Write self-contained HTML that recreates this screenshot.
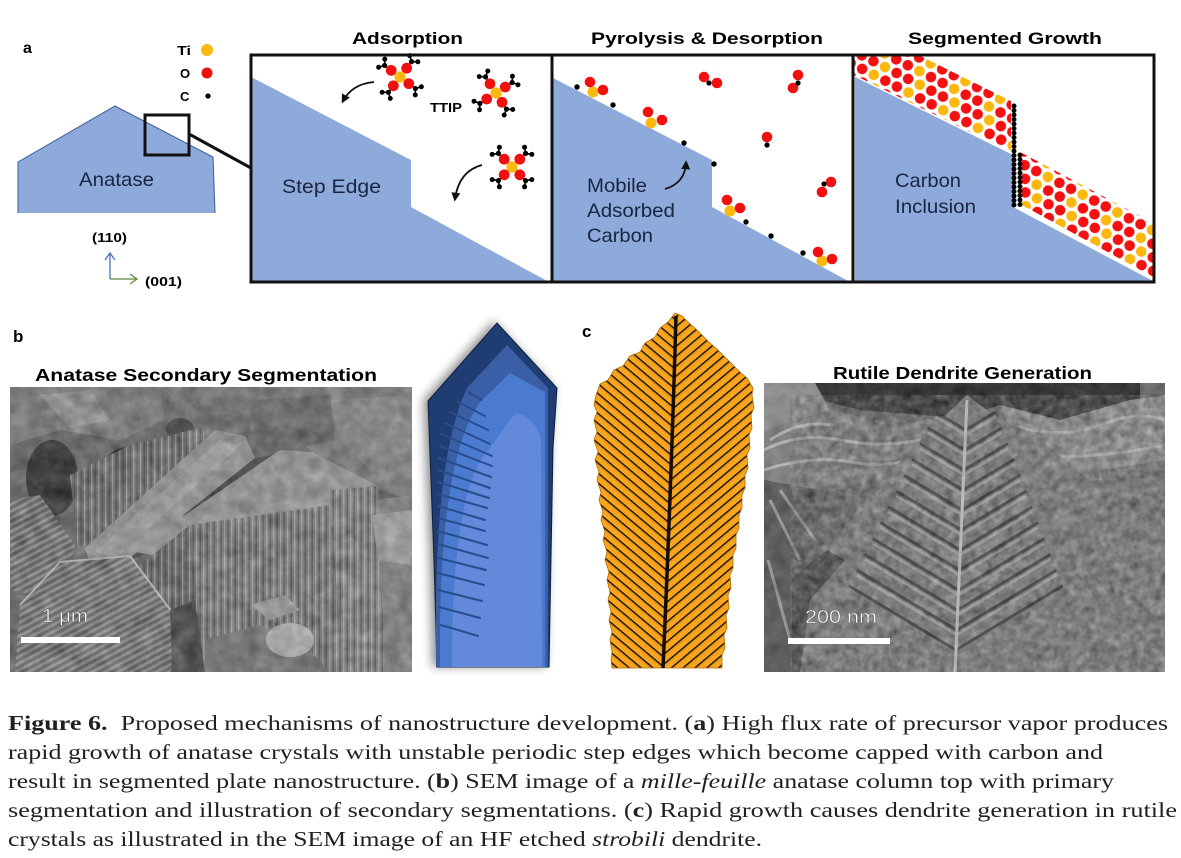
<!DOCTYPE html>
<html><head><meta charset="utf-8">
<style>
html,body{margin:0;padding:0;background:#fff;}
svg{display:block;}
.sans{font-family:"Liberation Sans",Arial,sans-serif;}
.serif{font-family:"Liberation Serif","Times New Roman",serif;}
</style></head>
<body>
<svg width="1181" height="858" viewBox="0 0 1181 858" xmlns="http://www.w3.org/2000/svg">
<defs>
  <marker id="ah" viewBox="0 0 10 10" refX="7" refY="5" markerWidth="5" markerHeight="5" orient="auto">
    <path d="M0,0 L10,5 L0,10 z" fill="#111"/>
  </marker>
  <g id="arm">
    <line x1="7.8" y1="7.8" x2="13.6" y2="13.6" stroke="#000" stroke-width="1.6"/>
    <line x1="13.6" y1="13.6" x2="12.6" y2="19.8" stroke="#000" stroke-width="1.6"/>
    <line x1="13.6" y1="13.6" x2="19.8" y2="12.6" stroke="#000" stroke-width="1.6"/>
    <circle cx="13.6" cy="13.6" r="2.6" fill="#000"/>
    <circle cx="12.6" cy="19.8" r="2.5" fill="#000"/>
    <circle cx="19.8" cy="12.6" r="2.5" fill="#000"/>
    <circle cx="7.8" cy="7.8" r="5.4" fill="#f01010"/>
  </g>
  <g id="ttip">
    <use href="#arm"/>
    <use href="#arm" transform="rotate(90)"/>
    <use href="#arm" transform="rotate(180)"/>
    <use href="#arm" transform="rotate(270)"/>
    <circle cx="0" cy="0" r="5.6" fill="#fdb810"/>
  </g>
  <pattern id="lat" width="39" height="24" patternUnits="userSpaceOnUse" patternTransform="rotate(27)">
    <circle cx="6.5" cy="6" r="5.3" fill="#f21010"/>
    <circle cx="19.5" cy="6" r="5.3" fill="#f21010"/>
    <circle cx="32.5" cy="6" r="5.3" fill="#fdb810"/>
    <circle cx="0" cy="18" r="5.3" fill="#fdb810"/>
    <circle cx="39" cy="18" r="5.3" fill="#fdb810"/>
    <circle cx="13" cy="18" r="5.3" fill="#f21010"/>
    <circle cx="26" cy="18" r="5.3" fill="#f21010"/>
  </pattern>
  <clipPath id="p3clip"><rect x="852" y="55" width="302" height="227"/></clipPath>
  <pattern id="hl" width="20" height="7.6" patternUnits="userSpaceOnUse" patternTransform="rotate(40)">
    <rect width="20" height="7.6" fill="#f9a51e"/>
    <rect y="0" width="20" height="1.4" fill="#1b1207"/>
    <rect y="1.4" width="20" height="1.4" fill="#e29614"/>
  </pattern>
  <pattern id="hr" width="20" height="7.6" patternUnits="userSpaceOnUse" patternTransform="rotate(-40)">
    <rect width="20" height="7.6" fill="#f9a51e"/>
    <rect y="0" width="20" height="1.4" fill="#1b1207"/>
    <rect y="1.4" width="20" height="1.4" fill="#e29614"/>
  </pattern>
  <clipPath id="leafclip">
    <polygon points="675,313 668,322 660,328 655,337 645,343 640,352 630,356 623,366 614,370 608,380 600,384 596,395 594,405 597,412 594,420 597,432 594,440 598,452 595,460 599,472 597,480 601,492 599,500 603,512 601,520 605,532 603,540 607,552 605,560 609,572 607,580 610,592 608,600 611,612 609,620 612,632 610,640 612,652 611,660 612,668 722,668 722,655 725,648 724,635 727,628 726,615 729,608 728,595 731,588 730,575 733,568 733,555 736,548 736,535 739,528 739,515 742,508 742,495 745,488 745,475 748,468 747,455 750,448 749,435 752,428 751,415 754,408 752,395 753,388 747,378 740,372 733,365 726,358 718,350 710,343 703,336 697,330 688,322 682,316"/>
  </clipPath>
  <filter id="sh" x="-30%" y="-20%" width="160%" height="140%" color-interpolation-filters="sRGB">
    <feGaussianBlur in="SourceAlpha" stdDeviation="5"/>
    <feOffset dx="-4" dy="-1" result="b"/>
    <feComponentTransfer><feFuncA type="linear" slope="0.45"/></feComponentTransfer>
    <feMerge><feMergeNode/><feMergeNode in="SourceGraphic"/></feMerge>
  </filter>
  <filter id="grain" x="0" y="0" width="1" height="1" color-interpolation-filters="sRGB">
    <feTurbulence type="fractalNoise" baseFrequency="0.07" numOctaves="3" seed="4"/>
    <feColorMatrix type="matrix" values="0.33 0.33 0.33 0 0  0.33 0.33 0.33 0 0  0.33 0.33 0.33 0 0  0 0 0 0 1"/>
    <feComponentTransfer>
      <feFuncR type="linear" slope="1.8" intercept="-0.45"/>
      <feFuncG type="linear" slope="1.8" intercept="-0.45"/>
      <feFuncB type="linear" slope="1.8" intercept="-0.45"/>
    </feComponentTransfer>
  </filter>
  <filter id="grain2" x="0" y="0" width="1" height="1" color-interpolation-filters="sRGB">
    <feTurbulence type="fractalNoise" baseFrequency="0.13" numOctaves="2" seed="9"/>
    <feColorMatrix type="matrix" values="0.33 0.33 0.33 0 0  0.33 0.33 0.33 0 0  0.33 0.33 0.33 0 0  0 0 0 0 1"/>
    <feComponentTransfer>
      <feFuncR type="linear" slope="2" intercept="-0.5"/>
      <feFuncG type="linear" slope="2" intercept="-0.5"/>
      <feFuncB type="linear" slope="2" intercept="-0.5"/>
    </feComponentTransfer>
  </filter>
  <pattern id="vs" width="7" height="10" patternUnits="userSpaceOnUse">
    <rect x="0" width="1.3" height="10" fill="#d0d0d0" opacity="0.5"/>
    <rect x="3.5" width="1.4" height="10" fill="#333" opacity="0.45"/>
  </pattern>
  <pattern id="hs" width="10" height="6" patternUnits="userSpaceOnUse" patternTransform="rotate(-28)">
    <rect y="0" width="10" height="1.2" fill="#d0d0d0" opacity="0.5"/>
    <rect y="3" width="10" height="1.2" fill="#333" opacity="0.45"/>
  </pattern>
  <clipPath id="sem1"><rect x="10" y="387" width="402" height="285"/></clipPath>
  <clipPath id="sem2"><rect x="764" y="383" width="401" height="289"/></clipPath>
</defs>

<!-- ===== Panel a: left ===== -->
<text x="23" y="53" class="sans" font-weight="bold" font-size="16" fill="#000">a</text>
<text x="177" y="55" class="sans" font-weight="bold" font-size="13" textLength="14" lengthAdjust="spacingAndGlyphs">Ti</text>
<text x="180" y="78" class="sans" font-weight="bold" font-size="13">O</text>
<text x="180" y="101" class="sans" font-weight="bold" font-size="13">C</text>
<circle cx="207" cy="50" r="6" fill="#fdb810"/>
<circle cx="207" cy="73" r="5.5" fill="#f01010"/>
<circle cx="208" cy="96" r="2.6" fill="#000"/>

<polygon points="18,213 18,162 115,106 213,157 215,213" fill="#8eaadb"/>
<polyline points="18,213 18,162 115,106 213,157 215,213" fill="none" stroke="#3b5b98" stroke-width="1"/>
<text x="79" y="186" class="sans" font-size="19.5" fill="#1a2540" textLength="75" lengthAdjust="spacingAndGlyphs">Anatase</text>
<rect x="145" y="115" width="44" height="40" fill="none" stroke="#111" stroke-width="3"/>
<line x1="189" y1="134" x2="251" y2="168" stroke="#111" stroke-width="3"/>

<text x="92" y="242" class="sans" font-weight="bold" font-size="13" textLength="35" lengthAdjust="spacingAndGlyphs">(110)</text>
<line x1="110" y1="279" x2="110" y2="253" stroke="#4a6fb5" stroke-width="1.3"/>
<polyline points="105,260 110,253 115,260" fill="none" stroke="#4a6fb5" stroke-width="1.3"/>
<line x1="110" y1="279" x2="137" y2="279" stroke="#5a8a3a" stroke-width="1.3"/>
<polyline points="130,274 137,279 130,284" fill="none" stroke="#5a8a3a" stroke-width="1.3"/>
<text x="145" y="286" class="sans" font-weight="bold" font-size="13" textLength="37" lengthAdjust="spacingAndGlyphs">(001)</text>

<!-- ===== Panel titles ===== -->
<text x="352" y="44" class="sans" font-weight="bold" font-size="17" textLength="111" lengthAdjust="spacingAndGlyphs">Adsorption</text>
<text x="591" y="44" class="sans" font-weight="bold" font-size="17" textLength="232" lengthAdjust="spacingAndGlyphs">Pyrolysis &amp; Desorption</text>
<text x="908" y="44" class="sans" font-weight="bold" font-size="17" textLength="194" lengthAdjust="spacingAndGlyphs">Segmented Growth</text>

<!-- Panel 1 -->
<polygon points="251,77 411,160 411,207 549,282 251,282" fill="#8eaadb"/>
<text x="282" y="193" class="sans" font-size="19.5" fill="#1a2540" textLength="99" lengthAdjust="spacingAndGlyphs">Step Edge</text>
<use href="#ttip" transform="translate(400,77) rotate(-8)"/>
<use href="#ttip" transform="translate(496,93) rotate(12)"/>
<use href="#ttip" transform="translate(512,167)"/>
<text x="430" y="112" class="sans" font-weight="bold" font-size="13" textLength="32" lengthAdjust="spacingAndGlyphs">TTIP</text>
<path d="M374,82 Q352,84 343,101" fill="none" stroke="#111" stroke-width="1.8" marker-end="url(#ah)"/>
<path d="M482,165 Q459,171 455,199" fill="none" stroke="#111" stroke-width="1.8" marker-end="url(#ah)"/>

<!-- Panel 2 -->
<polygon points="553,78 712,160 712,207 850,282 553,282" fill="#8eaadb"/>
<text x="587" y="192" class="sans" font-size="19.5" fill="#1a2540" textLength="60" lengthAdjust="spacingAndGlyphs">Mobile</text>
<text x="587" y="217" class="sans" font-size="19.5" fill="#1a2540" textLength="88" lengthAdjust="spacingAndGlyphs">Adsorbed</text>
<text x="587" y="242" class="sans" font-size="19.5" fill="#1a2540" textLength="66" lengthAdjust="spacingAndGlyphs">Carbon</text>
<path d="M665,189 Q685,183 686,163" fill="none" stroke="#111" stroke-width="1.8" marker-end="url(#ah)"/>
<g fill="#000">
  <circle cx="577" cy="87" r="2.7"/><circle cx="613" cy="105" r="2.7"/><circle cx="684" cy="143" r="2.7"/>
  <circle cx="714" cy="164" r="2.7"/><circle cx="746" cy="222" r="2.7"/><circle cx="771" cy="236" r="2.7"/>
  <circle cx="803" cy="253" r="2.7"/>
</g>
<g>
  <circle cx="593" cy="92" r="5.5" fill="#fdb810"/><circle cx="590" cy="82" r="5.3" fill="#f01010"/><circle cx="603" cy="90" r="5.3" fill="#f01010"/>
  <circle cx="651" cy="123" r="5.5" fill="#fdb810"/><circle cx="648" cy="112" r="5.3" fill="#f01010"/><circle cx="662" cy="120" r="5.3" fill="#f01010"/>
  <circle cx="730" cy="211" r="5.5" fill="#fdb810"/><circle cx="727" cy="200" r="5.3" fill="#f01010"/><circle cx="740" cy="208" r="5.3" fill="#f01010"/>
  <circle cx="822" cy="261" r="5.5" fill="#fdb810"/><circle cx="818" cy="252" r="5.3" fill="#f01010"/><circle cx="832" cy="259" r="5.3" fill="#f01010"/>
  <circle cx="704" cy="77" r="5.3" fill="#f01010"/><circle cx="717" cy="83" r="5.3" fill="#f01010"/><circle cx="709" cy="83" r="2.6" fill="#000"/>
  <circle cx="798" cy="75" r="5.3" fill="#f01010"/><circle cx="793" cy="88" r="5.3" fill="#f01010"/><circle cx="798" cy="83" r="2.6" fill="#000"/>
  <circle cx="767" cy="137" r="5.3" fill="#f01010"/><circle cx="767" cy="145" r="2.6" fill="#000"/>
  <circle cx="831" cy="182" r="5.3" fill="#f01010"/><circle cx="822" cy="192" r="5.3" fill="#f01010"/><circle cx="824" cy="184" r="2.6" fill="#000"/>
</g>

<!-- Panel 3 -->
<polygon points="855,77 1013,155 1013,207 1153,281 855,282" fill="#8eaadb"/>
<g clip-path="url(#p3clip)">
  <polygon points="852,74 1011,152 1011,101 852,22" fill="url(#lat)"/>
  <polygon points="1022,205 1155,278 1155,224 1022,153" fill="url(#lat)"/>
</g>
<line x1="1014" y1="106" x2="1014" y2="206" stroke="#000" stroke-width="5" stroke-linecap="round" stroke-dasharray="0 4.5"/>
<line x1="1020" y1="155" x2="1020" y2="206" stroke="#000" stroke-width="5" stroke-linecap="round" stroke-dasharray="0 4.5"/>
<text x="895" y="187" class="sans" font-size="19.5" fill="#1a2540" textLength="66" lengthAdjust="spacingAndGlyphs">Carbon</text>
<text x="895" y="213" class="sans" font-size="19.5" fill="#1a2540" textLength="81" lengthAdjust="spacingAndGlyphs">Inclusion</text>

<!-- Panel borders -->
<rect x="251" y="55" width="903" height="227" fill="none" stroke="#111" stroke-width="3"/>
<line x1="552" y1="55" x2="552" y2="282" stroke="#111" stroke-width="3"/>
<line x1="853" y1="55" x2="853" y2="282" stroke="#111" stroke-width="3"/>

<!-- ===== Panel b ===== -->
<text x="13" y="342" class="sans" font-weight="bold" font-size="17">b</text>
<text x="35" y="381" class="sans" font-weight="bold" font-size="17.5" textLength="342" lengthAdjust="spacingAndGlyphs">Anatase Secondary Segmentation</text>

<g clip-path="url(#sem1)">
  <rect x="10" y="387" width="402" height="285" fill="#6a6a6a"/>
  <polygon points="10,387 160,387 165,420 120,440 60,430 10,445" fill="#828282"/>
  <polygon points="40,395 90,390 110,420 70,428" fill="#9a9a9a"/>
  <polygon points="160,387 260,387 250,430 200,445 165,420" fill="#767676"/>
  <polygon points="260,387 412,387 412,500 380,490 330,470 300,440 250,430" fill="#808080"/>
  <polygon points="330,400 412,395 412,480 370,470 340,440" fill="#8e8e8e"/>
  <polygon points="250,400 330,395 335,440 290,450 255,435" fill="#6e6e6e"/>
  <ellipse cx="52" cy="478" rx="26" ry="38" fill="#333"/>
  <ellipse cx="133" cy="472" rx="32" ry="26" fill="#3a3a3a"/>
  <ellipse cx="180" cy="430" rx="14" ry="12" fill="#4a4a4a"/>
  <polygon points="10,500 40,495 75,545 60,600 10,590" fill="#7a7a7a"/>
  <polygon points="10,500 40,495 75,545 60,600 10,590" fill="url(#hs)"/>
  <polygon points="70,475 130,445 200,428 215,448 110,540 78,548" fill="#727272"/>
  <polygon points="70,475 130,445 200,428 215,448 110,540 78,548" fill="url(#vs)"/>
  <polygon points="85,548 215,430 245,436 255,458 125,562 92,568" fill="#9a9a9a"/>
  <polygon points="95,552 220,440 240,446 118,556" fill="#b4b4b4" opacity="0.6"/>
  <polygon points="255,458 290,452 200,525 160,548 125,562" fill="#4a4a4a"/>
  <polygon points="113,548 185,515 280,450 312,452 378,486 348,525 250,536 190,562" fill="#9e9e9e"/>
  <polygon points="140,565 190,525 205,672 150,672" fill="#6e6e6e"/>
  <polygon points="140,565 190,525 205,672 150,672" fill="url(#vs)"/>
  <polygon points="190,525 330,505 342,672 205,672" fill="#828282"/>
  <polygon points="190,525 330,505 342,672 205,672" fill="url(#vs)"/>
  <polygon points="330,490 378,486 385,672 342,672" fill="#8c8c8c"/>
  <polygon points="330,490 378,486 385,672 342,672" fill="url(#vs)"/>
  <polygon points="20,605 60,562 130,556 178,620 170,672 15,672" fill="#7e7e7e"/>
  <polygon points="20,605 60,562 130,556 178,620 170,672 15,672" fill="url(#hs)"/>
  <polyline points="20,605 60,562 130,556 178,620" fill="none" stroke="#c4c4c4" stroke-width="2"/>
  <polygon points="170,610 195,600 205,672 172,672" fill="#4e4e4e"/>
  <polygon points="378,500 412,495 412,672 385,672" fill="#888"/>
  <polygon points="372,515 412,510 412,565 378,560" fill="#a8a8a8"/>
  <polygon points="205,640 260,625 300,640 330,672 205,672" fill="#7a7a7a"/>
  <ellipse cx="290" cy="640" rx="24" ry="17" fill="#b8b8b8"/>
  <polygon points="250,605 285,595 300,610 270,620" fill="#a0a0a0"/>
  <rect x="10" y="387" width="402" height="285" filter="url(#grain)" opacity="0.22"/>
</g>
<rect x="21" y="637" width="99" height="6" fill="#fff"/>
<text x="42" y="622" class="sans" font-size="18" fill="#fff" stroke="#555" stroke-width="0.4" textLength="46" lengthAdjust="spacingAndGlyphs">1 μm</text>

<!-- Blue crystal illustration -->
<g filter="url(#sh)">
  <polygon points="497,323 557,388 553,448 549,667 437,667 434,560 428,401" fill="#1f3c73" stroke="#0f1f3f" stroke-width="1"/>
  <path d="M507,345 L548,388 L548,667 L436,667 C435,560 438,450 467,388 Z" fill="#3a5fa6"/>
  <path d="M510,373 L545,392 L545,667 L440,667 C439,560 446,450 480,402 Z" fill="#4a7bd0"/>
  <path d="M517,413 C530,418 538,425 541,440 L542,667 L452,667 C452,580 458,480 490,448 C500,435 508,420 517,413 Z" fill="#6389da"/>
</g>
<g stroke="#2b4c8c" stroke-width="2" stroke-linecap="round">
  <line x1="468" y1="392" x2="482" y2="400"/>
  <line x1="458" y1="402" x2="485" y2="416"/>
  <line x1="450" y1="412" x2="488" y2="430"/>
  <line x1="445" y1="423" x2="490" y2="444"/>
  <line x1="441" y1="434" x2="492" y2="456"/>
  <line x1="440" y1="446" x2="492" y2="466"/>
  <line x1="439" y1="458" x2="491" y2="477"/>
  <line x1="438" y1="470" x2="490" y2="488"/>
  <line x1="438" y1="482" x2="489" y2="498"/>
  <line x1="438" y1="494" x2="487" y2="508"/>
  <line x1="438" y1="506" x2="485" y2="520"/>
  <line x1="438" y1="518" x2="485" y2="531"/>
  <line x1="438" y1="531" x2="487" y2="545"/>
  <line x1="438" y1="544" x2="488" y2="558"/>
  <line x1="438" y1="558" x2="486" y2="570"/>
  <line x1="438" y1="573" x2="484" y2="585"/>
  <line x1="438" y1="590" x2="482" y2="601"/>
  <line x1="439" y1="607" x2="480" y2="618"/>
  <line x1="441" y1="625" x2="478" y2="636"/>
</g>

<!-- ===== Panel c ===== -->
<text x="582" y="337" class="sans" font-weight="bold" font-size="17">c</text>
<g clip-path="url(#leafclip)">
  <polygon points="560,300 676,300 663,672 560,672" fill="url(#hl)"/>
  <polygon points="676,300 800,300 800,672 663,672" fill="url(#hr)"/>
</g>
<polygon points="675,313 668,322 660,328 655,337 645,343 640,352 630,356 623,366 614,370 608,380 600,384 596,395 594,405 597,412 594,420 597,432 594,440 598,452 595,460 599,472 597,480 601,492 599,500 603,512 601,520 605,532 603,540 607,552 605,560 609,572 607,580 610,592 608,600 611,612 609,620 612,632 610,640 612,652 611,660 612,668 722,668 722,655 725,648 724,635 727,628 726,615 729,608 728,595 731,588 730,575 733,568 733,555 736,548 736,535 739,528 739,515 742,508 742,495 745,488 745,475 748,468 747,455 750,448 749,435 752,428 751,415 754,408 752,395 753,388 747,378 740,372 733,365 726,358 718,350 710,343 703,336 697,330 688,322 682,316" fill="none" stroke="#b06d0c" stroke-width="0.8"/>
<path d="M676,316 Q671,490 663,668" fill="none" stroke="#120c05" stroke-width="3.5"/>

<!-- Right SEM -->
<text x="833" y="379" class="sans" font-weight="bold" font-size="17.5" textLength="259" lengthAdjust="spacingAndGlyphs">Rutile Dendrite Generation</text>
<g clip-path="url(#sem2)">
  <rect x="764" y="383" width="401" height="289" fill="#6c6c6c"/>
  <polygon points="810,383 1140,383 1140,405 1060,420 1000,405 960,418 860,410 820,400" fill="#2e2e2e"/>
  <polygon points="764,383 815,383 830,410 790,440 764,440" fill="#929292"/>
  <polygon points="764,430 830,410 900,425 962,412 960,470 900,472 830,492 764,482" fill="#858585"/>
  <path d="M764,450 Q800,432 840,440 T920,440 T965,430 M764,470 Q810,455 850,462 T930,455 M770,440 Q800,420 830,425" fill="none" stroke="#bdbdbd" stroke-width="3"/>
  <polygon points="1000,405 1060,420 1130,400 1165,395 1165,470 1085,482 1015,442" fill="#999"/>
  <path d="M1010,425 Q1060,440 1100,425 T1165,420 M1040,455 Q1090,460 1165,445" fill="none" stroke="#c0c0c0" stroke-width="3"/>
  <polygon points="1100,470 1165,460 1165,600 1120,560" fill="#7a7a7a"/>
  <polygon points="764,480 830,492 805,560 792,672 764,672" fill="#5c5c5c"/>
  <path d="M770,500 L800,560 M780,490 L815,540 M768,560 L790,640" stroke="#9c9c9c" stroke-width="3" fill="none"/>
  <polygon points="967,395 1000,420 1030,432 1090,480 1150,520 1165,545 1165,672 792,672 792,578 827,550 873,490 930,430" fill="#828282"/>
  <polygon points="792,578 827,550 845,560 810,600 800,672 792,672" fill="#444"/>
  <rect x="790" y="395" width="375" height="277" filter="url(#grain2)" opacity="0.3"/>
  <path d="M935.6,412 L965.6,430 L995.6,412 M927.8,427.8 L964.8,450 L1001.8,427.8 M919.9,443.6 L963.9,470 L1007.9,443.6 M912,459.4 L963,490 L1014,459.4 M904,475.2 L962,510 L1020,475.2 M896.2,491 L961.2,530 L1026.2,491 M888.3,506.8 L960.3,550 L1032.3,506.8 M880.4,522.6 L959.4,570 L1038.4,522.6 M872.5,538.4 L958.5,590 L1044.5,538.4 M864.6,554.2 L957.6,610 L1050.6,554.2 M856.7,570 L956.7,630 L1056.7,570 M848.8,585.8 L955.8,650 L1062.8,585.8" fill="none" stroke="#2e2e2e" stroke-width="3" opacity="0.65"/>
  <path d="M935.6,417 L965.6,435 L995.6,417 M927.8,432.8 L964.8,455 L1001.8,432.8 M919.9,448.6 L963.9,475 L1007.9,448.6 M912,464.4 L963,495 L1014,464.4 M904,480.2 L962,515 L1020,480.2 M896.2,496 L961.2,535 L1026.2,496 M888.3,511.8 L960.3,555 L1032.3,511.8 M880.4,527.6 L959.4,575 L1038.4,527.6 M872.5,543.4 L958.5,595 L1044.5,543.4 M864.6,559.2 L957.6,615 L1050.6,559.2 M856.7,575 L956.7,635 L1056.7,575" fill="none" stroke="#bdbdbd" stroke-width="2.5" opacity="0.55"/>
  <path d="M967,400 Q962,520 955,672" fill="none" stroke="#c4c4c4" stroke-width="3"/>
  <rect x="764" y="383" width="401" height="289" filter="url(#grain)" opacity="0.15"/>
</g>
<rect x="788" y="638" width="102" height="6" fill="#fff"/>
<text x="805" y="623" class="sans" font-size="18" fill="#fff" stroke="#555" stroke-width="0.4" textLength="72" lengthAdjust="spacingAndGlyphs">200 nm</text>

<!-- ===== Caption ===== -->
<g class="serif" font-size="21" fill="#231f20">
  <text x="8" y="730" textLength="1160" lengthAdjust="spacingAndGlyphs"><tspan font-weight="bold">Figure 6.</tspan>&#160;&#160;Proposed mechanisms of nanostructure development. (<tspan font-weight="bold">a</tspan>) High flux rate of precursor vapor produces</text>
  <text x="8" y="759" textLength="1095" lengthAdjust="spacingAndGlyphs">rapid growth of anatase crystals with unstable periodic step edges which become capped with carbon and</text>
  <text x="8" y="788" textLength="1106" lengthAdjust="spacingAndGlyphs">result in segmented plate nanostructure. (<tspan font-weight="bold">b</tspan>) SEM image of a <tspan font-style="italic">mille-feuille</tspan> anatase column top with primary</text>
  <text x="8" y="817" textLength="1169" lengthAdjust="spacingAndGlyphs">segmentation and illustration of secondary segmentations. (<tspan font-weight="bold">c</tspan>) Rapid growth causes dendrite generation in rutile</text>
  <text x="8" y="846" textLength="754" lengthAdjust="spacingAndGlyphs">crystals as illustrated in the SEM image of an HF etched <tspan font-style="italic">strobili</tspan> dendrite.</text>
</g>
</svg>
</body></html>
